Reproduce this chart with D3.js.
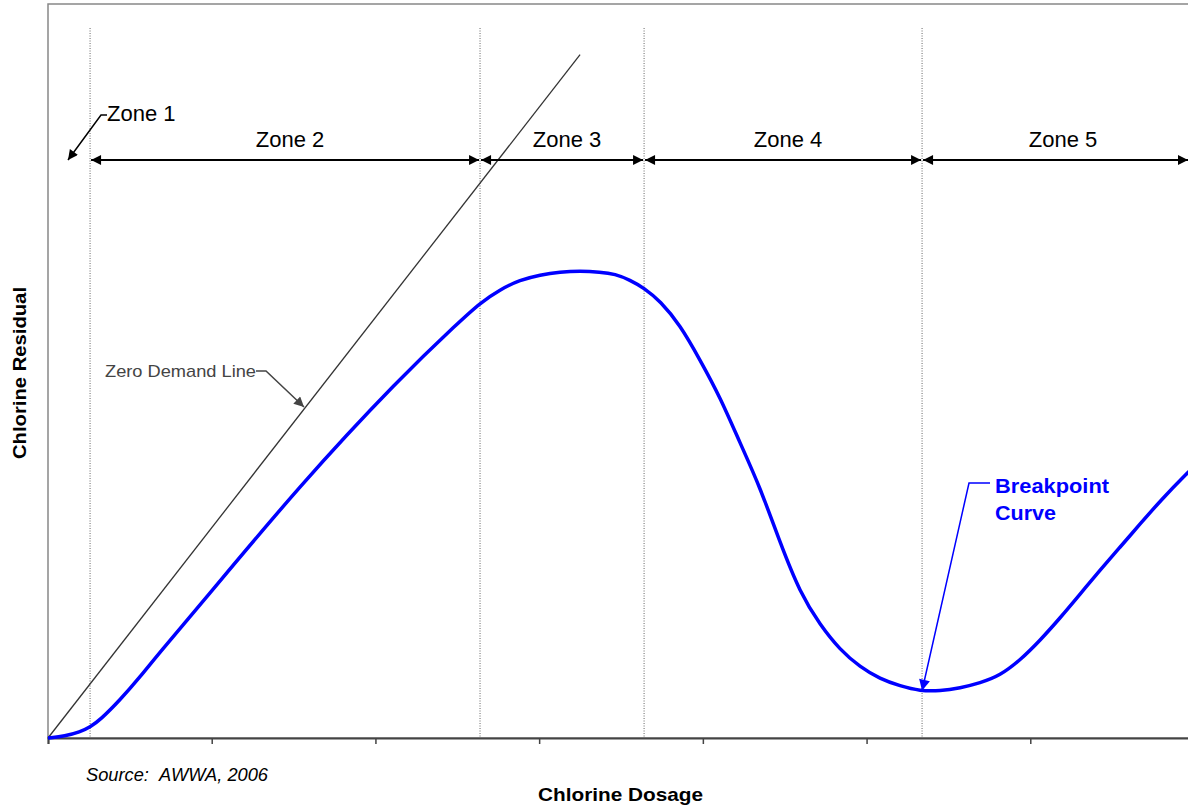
<!DOCTYPE html>
<html><head><meta charset="utf-8">
<script src="https://cdn.jsdelivr.net/npm/d3@7/dist/d3.min.js"></script>
<style>body{margin:0;background:#fff}svg{display:block}text{font-family:"Liberation Sans",Arial,sans-serif}</style>
</head><body><svg id="c" width="1188" height="807"></svg>
<script>
// Data (dosage units 0..7, residual units 0..100)
const curveX = [0, 0.104, 0.195, 0.257, 0.318, 0.440, 0.562, 0.684, 0.929, 1.539, 2.150, 2.517, 2.639, 2.761, 2.883, 3.006, 3.128, 3.250, 3.372, 3.464, 3.555, 3.641, 3.739, 3.861, 3.983, 4.105, 4.227, 4.349, 4.472, 4.594, 4.716, 4.838, 4.960, 5.082, 5.205, 5.327, 5.449, 5.571, 5.693, 5.815, 5.938, 6.060, 6.182, 6.304, 6.427, 6.549, 6.671, 6.793, 6.964, 7.0];
const curveY = [0, 0.27, 0.82, 1.50, 2.45, 5.18, 8.31, 11.72, 18.12, 34.47, 49.05, 56.81, 59.26, 61.1, 62.4, 63.1, 63.49, 63.62, 63.49, 63.22, 62.40, 61.31, 59.54, 56.27, 51.50, 46.46, 40.19, 34.20, 26.57, 19.75, 15.40, 11.99, 9.67, 8.04, 7.08, 6.40, 6.40, 6.81, 7.49, 8.5, 10.6, 13.3, 16.35, 19.6, 22.89, 26.02, 29.16, 32.29, 36.24, 36.9];
const zeroDemandX = [0, 3.25];
const zeroDemandY = [0, 93.1];
const zoneBounds = [0.257, 2.639, 3.641, 5.339, 7.1];
const zoneLabels = ["Zone 2", "Zone 3", "Zone 4", "Zone 5"];
const xTicks = [0, 1, 2, 3, 4, 5, 6, 7];

const svg = d3.select("#c");
const x = d3.scaleLinear().domain([0, 7]).range([48, 1194]);
const y = d3.scaleLinear().domain([0, 100]).range([738, 4]);

const defs = svg.append("defs");
function marker(id, color, w, h) {
  defs.append("marker").attr("id", id).attr("viewBox", "0 0 10 10").attr("refX", 10).attr("refY", 5)
    .attr("markerWidth", w).attr("markerHeight", h).attr("markerUnits", "userSpaceOnUse").attr("orient", "auto-start-reverse")
    .append("path").attr("d", "M0,0 L10,5 L0,10 Z").attr("fill", color);
}
marker("arrK", "#000", 12, 10);
marker("arrG", "#444", 11, 10);
marker("arrB", "#0000ff", 12, 11);

// frame
svg.append("rect").attr("x", x(0)).attr("y", y(100)).attr("width", x(7) - x(0)).attr("height", y(0) - y(100))
  .attr("fill", "none").attr("stroke", "#888").attr("stroke-width", 1.5);

// dotted zone lines
svg.selectAll("line.zl").data(zoneBounds.slice(0, 4)).enter().append("line")
  .attr("x1", d => x(d)).attr("x2", d => x(d)).attr("y1", 28).attr("y2", y(0))
  .attr("stroke", "#666").attr("stroke-width", 1).attr("stroke-dasharray", "1,1.5");

// x axis
const ax = svg.append("g").attr("transform", `translate(0,${y(0)})`)
  .call(d3.axisBottom(x).tickValues(xTicks).tickSize(6).tickFormat(""));
ax.select(".domain").attr("stroke", "#444").attr("stroke-width", 2);
ax.selectAll(".tick line").attr("stroke", "#444").attr("stroke-width", 1.5);

// zero demand line
svg.append("line").attr("x1", x(zeroDemandX[0])).attr("y1", y(zeroDemandY[0]))
  .attr("x2", x(zeroDemandX[1])).attr("y2", y(zeroDemandY[1])).attr("stroke", "#333").attr("stroke-width", 1.3);

// breakpoint curve
const pts = curveX.map((d, i) => [d, curveY[i]]);
svg.append("path").datum(pts).attr("fill", "none").attr("stroke", "#0000ff").attr("stroke-width", 3.5)
  .attr("d", d3.line().x(d => x(d[0])).y(d => y(d[1])).curve(d3.curveBasis));

// zone arrows
const zy = 160;
zoneLabels.forEach((lab, i) => {
  const a = x(zoneBounds[i]) + 1, b = Math.min(x(zoneBounds[i + 1]) - 1, 1188);
  svg.append("line").attr("x1", a).attr("x2", b).attr("y1", zy).attr("y2", zy).attr("stroke", "#000").attr("stroke-width", 2)
    .attr("marker-start", "url(#arrK)").attr("marker-end", "url(#arrK)");
  const cx = i === 3 ? 1063 : (a + b) / 2 + 5;
  svg.append("text").attr("x", cx).attr("y", 147).attr("text-anchor", "middle").attr("font-size", 22).text(lab);
});

// Zone 1 label
svg.append("text").attr("x", 107).attr("y", 121).attr("font-size", 22).text("Zone 1");
svg.append("path").attr("d", "M107,115 L101,115 L68,160").attr("fill", "none").attr("stroke", "#000").attr("stroke-width", 1.5)
  .attr("marker-end", "url(#arrK)");

// Zero demand label
svg.append("text").attr("x", 105).attr("y", 377).attr("font-size", 17).attr("fill", "#444")
  .attr("textLength", 151).attr("lengthAdjust", "spacingAndGlyphs").text("Zero Demand Line");
svg.append("path").attr("d", "M256,371 L266,371 L304,407").attr("fill", "none").attr("stroke", "#444").attr("stroke-width", 1.5)
  .attr("marker-end", "url(#arrG)");

// Breakpoint label
svg.append("text").attr("x", 995).attr("y", 493).attr("font-size", 21).attr("font-weight", "bold").attr("fill", "#0000ff")
  .attr("textLength", 114).attr("lengthAdjust", "spacingAndGlyphs").text("Breakpoint");
svg.append("text").attr("x", 995).attr("y", 520).attr("font-size", 21).attr("font-weight", "bold").attr("fill", "#0000ff")
  .attr("textLength", 61).attr("lengthAdjust", "spacingAndGlyphs").text("Curve");
svg.append("path").attr("d", `M990,483 L969,483 L${x(zoneBounds[3])},${y(6.3) - 1}`).attr("fill", "none").attr("stroke", "#0000ff").attr("stroke-width", 1.5)
  .attr("marker-end", "url(#arrB)");

// axis titles
svg.append("text").attr("x", 538).attr("y", 801).attr("font-size", 19).attr("font-weight", "bold")
  .attr("textLength", 165).attr("lengthAdjust", "spacingAndGlyphs").text("Chlorine Dosage");
svg.append("text").attr("transform", "translate(26,459) rotate(-90)").attr("font-size", 19).attr("font-weight", "bold")
  .attr("textLength", 172).attr("lengthAdjust", "spacingAndGlyphs").text("Chlorine Residual");
svg.append("text").attr("x", 86).attr("y", 781).attr("font-size", 18).attr("font-style", "italic")
  .attr("textLength", 182).attr("lengthAdjust", "spacingAndGlyphs").text("Source:\u00a0\u00a0AWWA, 2006");
</script></body></html>
